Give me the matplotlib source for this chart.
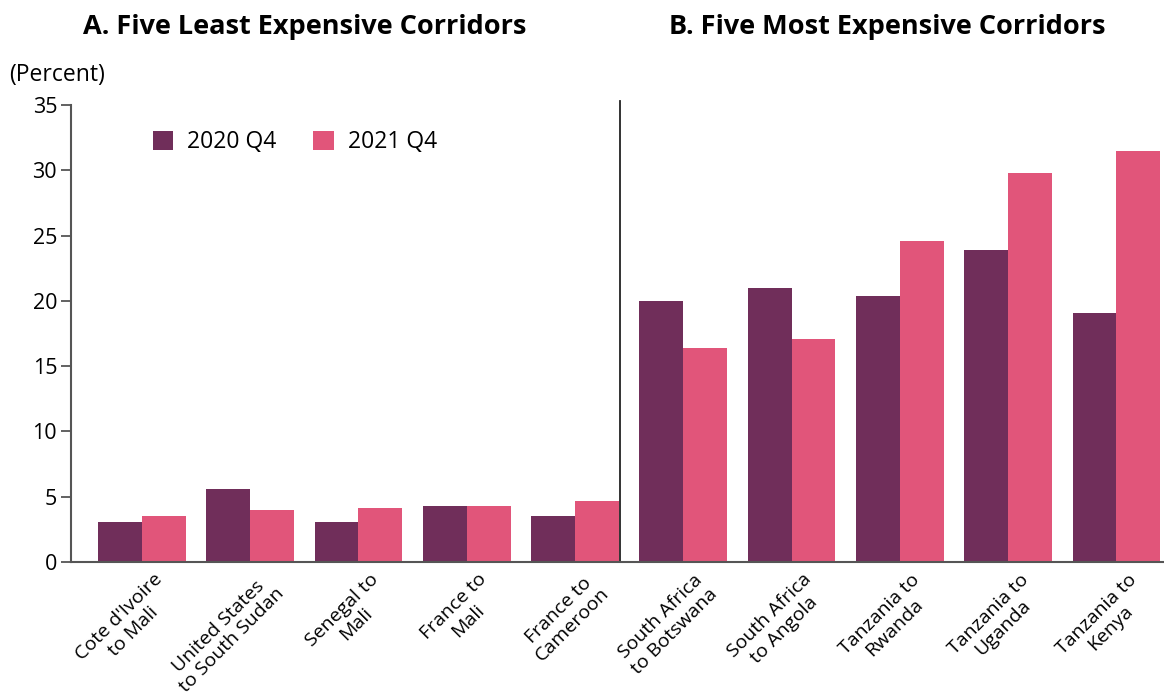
import matplotlib.pyplot as plt
import matplotlib.transforms as mtransforms
import numpy as np

plt.rcParams['font.family'] = ['Open Sans', 'DejaVu Sans']

corridors = ["Cote d'Ivoire\nto Mali", "United States\nto South Sudan", "Senegal to\nMali",
             "France to\nMali", "France to\nCameroon", "South Africa\nto Botswana",
             "South Africa\nto Angola", "Tanzania to\nRwanda", "Tanzania to\nUganda",
             "Tanzania to\nKenya"]
q4_2020 = [3.1, 5.6, 3.1, 4.3, 3.5, 20.0, 21.0, 20.4, 23.9, 19.1]
q4_2021 = [3.5, 4.0, 4.1, 4.3, 4.7, 16.4, 17.1, 24.6, 29.8, 31.5]
yticks = [0, 5, 10, 15, 20, 25, 30, 35]

dark = '#702E5A'
pink = '#E1557A'
axcol = '#555555'

fig = plt.figure(figsize=(11.64, 6.96), dpi=100)
ax = fig.add_axes([0.061, 0.1925, 0.939, 0.6565])

x = np.arange(len(corridors))
w = 0.405
ax.bar(x - w / 2, q4_2020, w, color=dark, label='2020 Q4')
ax.bar(x + w / 2, q4_2021, w, color=pink, label='2021 Q4')

ax.set_xlim(-0.655, 9.44)
ax.set_ylim(0, 35)
ax.set_yticks(yticks)
ax.tick_params(axis='y', length=7, width=1.3, color=axcol, labelsize=15.5, pad=3)
ax.tick_params(axis='x', length=0, pad=6)
ax.set_xticks(x)
ax.set_xticklabels(corridors, rotation=45, ha='right', va='top', rotation_mode='anchor',
                   fontsize=14, multialignment='center', linespacing=1.15)
shift = mtransforms.ScaledTranslation(11 / 100, 0, fig.dpi_scale_trans)
for lbl in ax.get_xticklabels():
    lbl.set_transform(lbl.get_transform() + shift)
for s in ['top', 'right']:
    ax.spines[s].set_visible(False)
for s in ['left', 'bottom']:
    ax.spines[s].set_color(axcol)
    ax.spines[s].set_linewidth(1.5)

# divider between the two panels
ax.axvline(4.42, ymin=0, ymax=1.01, color='#222222', lw=1.3, clip_on=False)

leg = ax.legend(loc='upper left', bbox_to_anchor=(0.056, 0.99), ncol=2, frameon=False,
                fontsize=16.5, handlelength=0.9, handleheight=0.9, columnspacing=1.6,
                handletextpad=0.6)

fig.text(0.262, 0.961, 'A. Five Least Expensive Corridors', ha='center', va='center',
         fontsize=19.5, fontweight='bold')
fig.text(0.762, 0.961, 'B. Five Most Expensive Corridors', ha='center', va='center',
         fontsize=19.5, fontweight='bold')
fig.text(0.008, 0.892, '(Percent)', ha='left', va='center', fontsize=16.5)

fig.savefig('out.png', dpi=100)
